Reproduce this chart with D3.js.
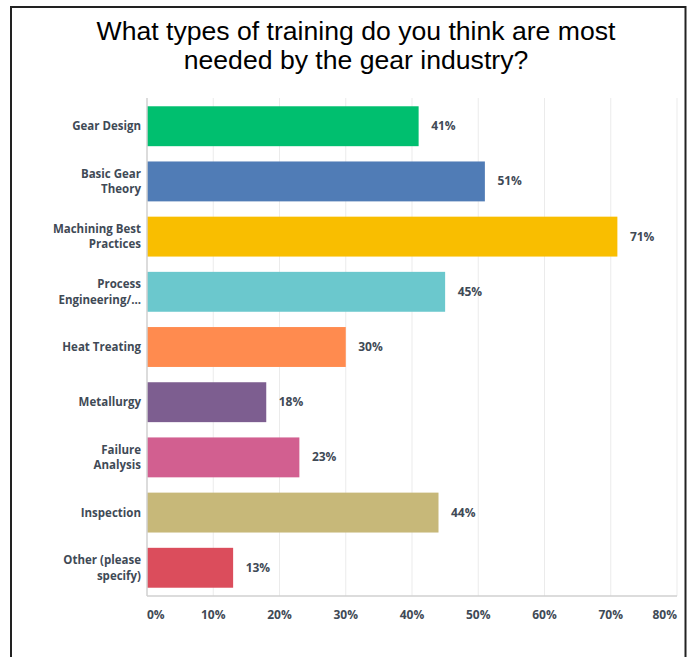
<!DOCTYPE html>
<html>
<head>
<meta charset="utf-8">
<script src="https://cdn.jsdelivr.net/npm/d3@7"></script>
<style>
  html, body { margin: 0; padding: 0; background: #fff; }
  svg { display: block; }
</style>
</head>
<body>
<svg id="chart" width="688" height="657"></svg>
<script>
// Survey answers: share of respondents choosing each training type
const categories = [
  ["Gear Design"],
  ["Basic Gear", "Theory"],
  ["Machining Best", "Practices"],
  ["Process", "Engineering/..."],
  ["Heat Treating"],
  ["Metallurgy"],
  ["Failure", "Analysis"],
  ["Inspection"],
  ["Other (please", "specify)"]
];
const values = [41, 51, 71, 45, 30, 18, 23, 44, 13];
const colors = ["#00BF6F", "#507CB6", "#F9BE00", "#6BC8CD", "#FF8B4F",
                "#7D5E90", "#D25F90", "#C7B879", "#DB4D5C"];
const tickValues = [0, 10, 20, 30, 40, 50, 60, 70, 80];
const titleLines = ["What types of training do you think are most",
                    "needed by the gear industry?"];

const svg = d3.select("#chart");
const labelColor = "#3F4A56";
const labelFont = "'Open Sans', sans-serif";

// Outer frame (top, left and right edges)
svg.append("path")
  .attr("d", "M11,657 V7 H685.5 V657")
  .attr("fill", "none")
  .attr("stroke", "#222")
  .attr("stroke-width", 2);

// Title, one text element per line
svg.append("g")
  .selectAll("text")
  .data(titleLines)
  .join("text")
  .attr("x", 356)
  .attr("y", (d, i) => 39.5 + i * 29.5)
  .attr("text-anchor", "middle")
  .attr("font-family", "'Liberation Sans', Arial, sans-serif")
  .attr("font-size", 26.6)
  .attr("fill", "#000")
  .text(d => d);

const plot = { left: 147, right: 677, top: 98, bottom: 596 };

const x = d3.scaleLinear().domain([0, 80]).range([plot.left, plot.right]);
const y = d3.scaleBand()
  .domain(d3.range(categories.length))
  .range([plot.top, plot.bottom])
  .paddingInner(0.277)
  .paddingOuter(0.15);

// Vertical gridlines
svg.append("g")
  .selectAll("line")
  .data(tickValues.slice(1))
  .join("line")
  .attr("x1", d => x(d)).attr("x2", d => x(d))
  .attr("y1", plot.top).attr("y2", plot.bottom)
  .attr("stroke", "#EBEBEB")
  .attr("stroke-width", 1);

// Bars
svg.append("g")
  .selectAll("rect")
  .data(values)
  .join("rect")
  .attr("x", x(0))
  .attr("y", (d, i) => y(i))
  .attr("width", d => x(d) - x(0))
  .attr("height", y.bandwidth())
  .attr("fill", (d, i) => colors[i]);

// Axis lines
svg.append("line")
  .attr("x1", plot.left).attr("x2", plot.left)
  .attr("y1", plot.top).attr("y2", plot.bottom)
  .attr("stroke", "#D0D0D0").attr("stroke-width", 1.5);
svg.append("line")
  .attr("x1", plot.left).attr("x2", plot.right)
  .attr("y1", plot.bottom).attr("y2", plot.bottom)
  .attr("stroke", "#D0D0D0").attr("stroke-width", 1.5);

// Value labels
svg.append("g")
  .selectAll("text")
  .data(values)
  .join("text")
  .attr("x", d => x(d) + 12.5)
  .attr("y", (d, i) => y(i) + y.bandwidth() / 2 + 4)
  .attr("font-family", labelFont)
  .attr("font-weight", 700)
  .attr("font-size", 12)
  .attr("fill", labelColor)
  .text(d => d + "%");

// Category labels, one text element per line
const lineGap = 15.7;
const catRows = categories.flatMap((lines, i) => lines.map((t, j) => ({
  text: t,
  yPos: y(i) + y.bandwidth() / 2 + 4 + (j - (lines.length - 1) / 2) * lineGap
})));
svg.append("g")
  .selectAll("text")
  .data(catRows)
  .join("text")
  .attr("x", 141)
  .attr("y", d => d.yPos)
  .attr("text-anchor", "end")
  .attr("font-family", labelFont)
  .attr("font-weight", 700)
  .attr("font-size", 11.5)
  .attr("fill", labelColor)
  .text(d => d.text);

// X axis tick labels
svg.append("g")
  .selectAll("text")
  .data(tickValues)
  .join("text")
  .attr("x", d => x(d))
  .attr("y", 618.5)
  .attr("text-anchor", (d, i) => i === 0 ? "start" : (i === tickValues.length - 1 ? "end" : "middle"))
  .attr("font-family", labelFont)
  .attr("font-weight", 700)
  .attr("font-size", 12)
  .attr("fill", labelColor)
  .text(d => d + "%");
</script>
</body>
</html>
